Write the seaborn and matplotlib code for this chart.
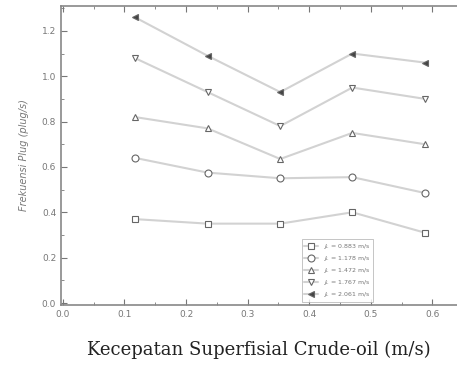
import matplotlib
matplotlib.use("Agg")
import matplotlib.pyplot as plt
import seaborn as sns
import pandas as pd
from matplotlib.ticker import MultipleLocator

sns.set_theme(style="ticks")
plt.rcParams['font.family'] = ['DejaVu Sans']

x_vals = [0.117, 0.235, 0.353, 0.470, 0.588]
labels = ["0.883", "1.178", "1.472", "1.767", "2.061"]
s1 = [0.37, 0.35, 0.35, 0.40, 0.31]
s2 = [0.64, 0.575, 0.55, 0.555, 0.485]
s3 = [0.82, 0.77, 0.635, 0.75, 0.70]
s4 = [1.08, 0.93, 0.78, 0.95, 0.90]
s5 = [1.26, 1.09, 0.93, 1.10, 1.06]
series = [s1, s2, s3, s4, s5]
markers = ["s", "o", "^", "v", "<"]
fills = ["white", "white", "white", "white", "#444444"]

fig = plt.figure(figsize=(4.57, 3.68), dpi=100)
ax = fig.add_axes([0.1335, 0.171, 0.8665, 0.813])

for vals, lab, mk, fc in zip(series, labels, markers, fills):
    df = pd.DataFrame({"x": x_vals, "y": vals})
    sns.lineplot(data=df, x="x", y="y", ax=ax, color="#d2d2d2", linewidth=1.5,
                 marker=mk, markersize=5, markerfacecolor=fc,
                 markeredgecolor="#666666", markeredgewidth=0.8,
                 label=r"$J_L$ = " + lab + " m/s")

ax.set_xlim(-0.003, 0.64)
ax.set_ylim(-0.009, 1.31)
ax.xaxis.set_major_locator(MultipleLocator(0.1))
ax.xaxis.set_minor_locator(MultipleLocator(0.05))
ax.yaxis.set_major_locator(MultipleLocator(0.2))
ax.yaxis.set_minor_locator(MultipleLocator(0.1))
ax.xaxis.set_major_formatter(matplotlib.ticker.FormatStrFormatter('%.1f'))
ax.yaxis.set_major_formatter(matplotlib.ticker.FormatStrFormatter('%.1f'))
ax.tick_params(which='both', direction='in', top=True, right=False, color='#777777',
               labelsize=6.5, labelcolor='#777777')
ax.tick_params(which='major', length=4, width=0.8)
ax.tick_params(which='minor', length=2, width=0.6)
for side in ['left', 'bottom', 'top']:
    ax.spines[side].set_color('#888888')
    ax.spines[side].set_linewidth(1.2)
ax.spines['right'].set_visible(False)

ax.set_ylabel("Frekuensi Plug (plug/s)", fontsize=7, color='#777777', style='italic', labelpad=9)
ax.set_xlabel("Kecepatan Superfisial Crude-oil (m/s)", fontsize=13, color='#222222',
              family='DejaVu Serif', labelpad=16)

leg = ax.legend(loc='lower left', bbox_to_anchor=(0.6, 0.0), fontsize=4.5,
                frameon=True, fancybox=False, edgecolor='#aaaaaa', labelcolor='#777777',
                handlelength=2.2, borderpad=0.4, labelspacing=0.5)
leg.get_frame().set_linewidth(0.6)

fig.savefig("out.png", dpi=100)
